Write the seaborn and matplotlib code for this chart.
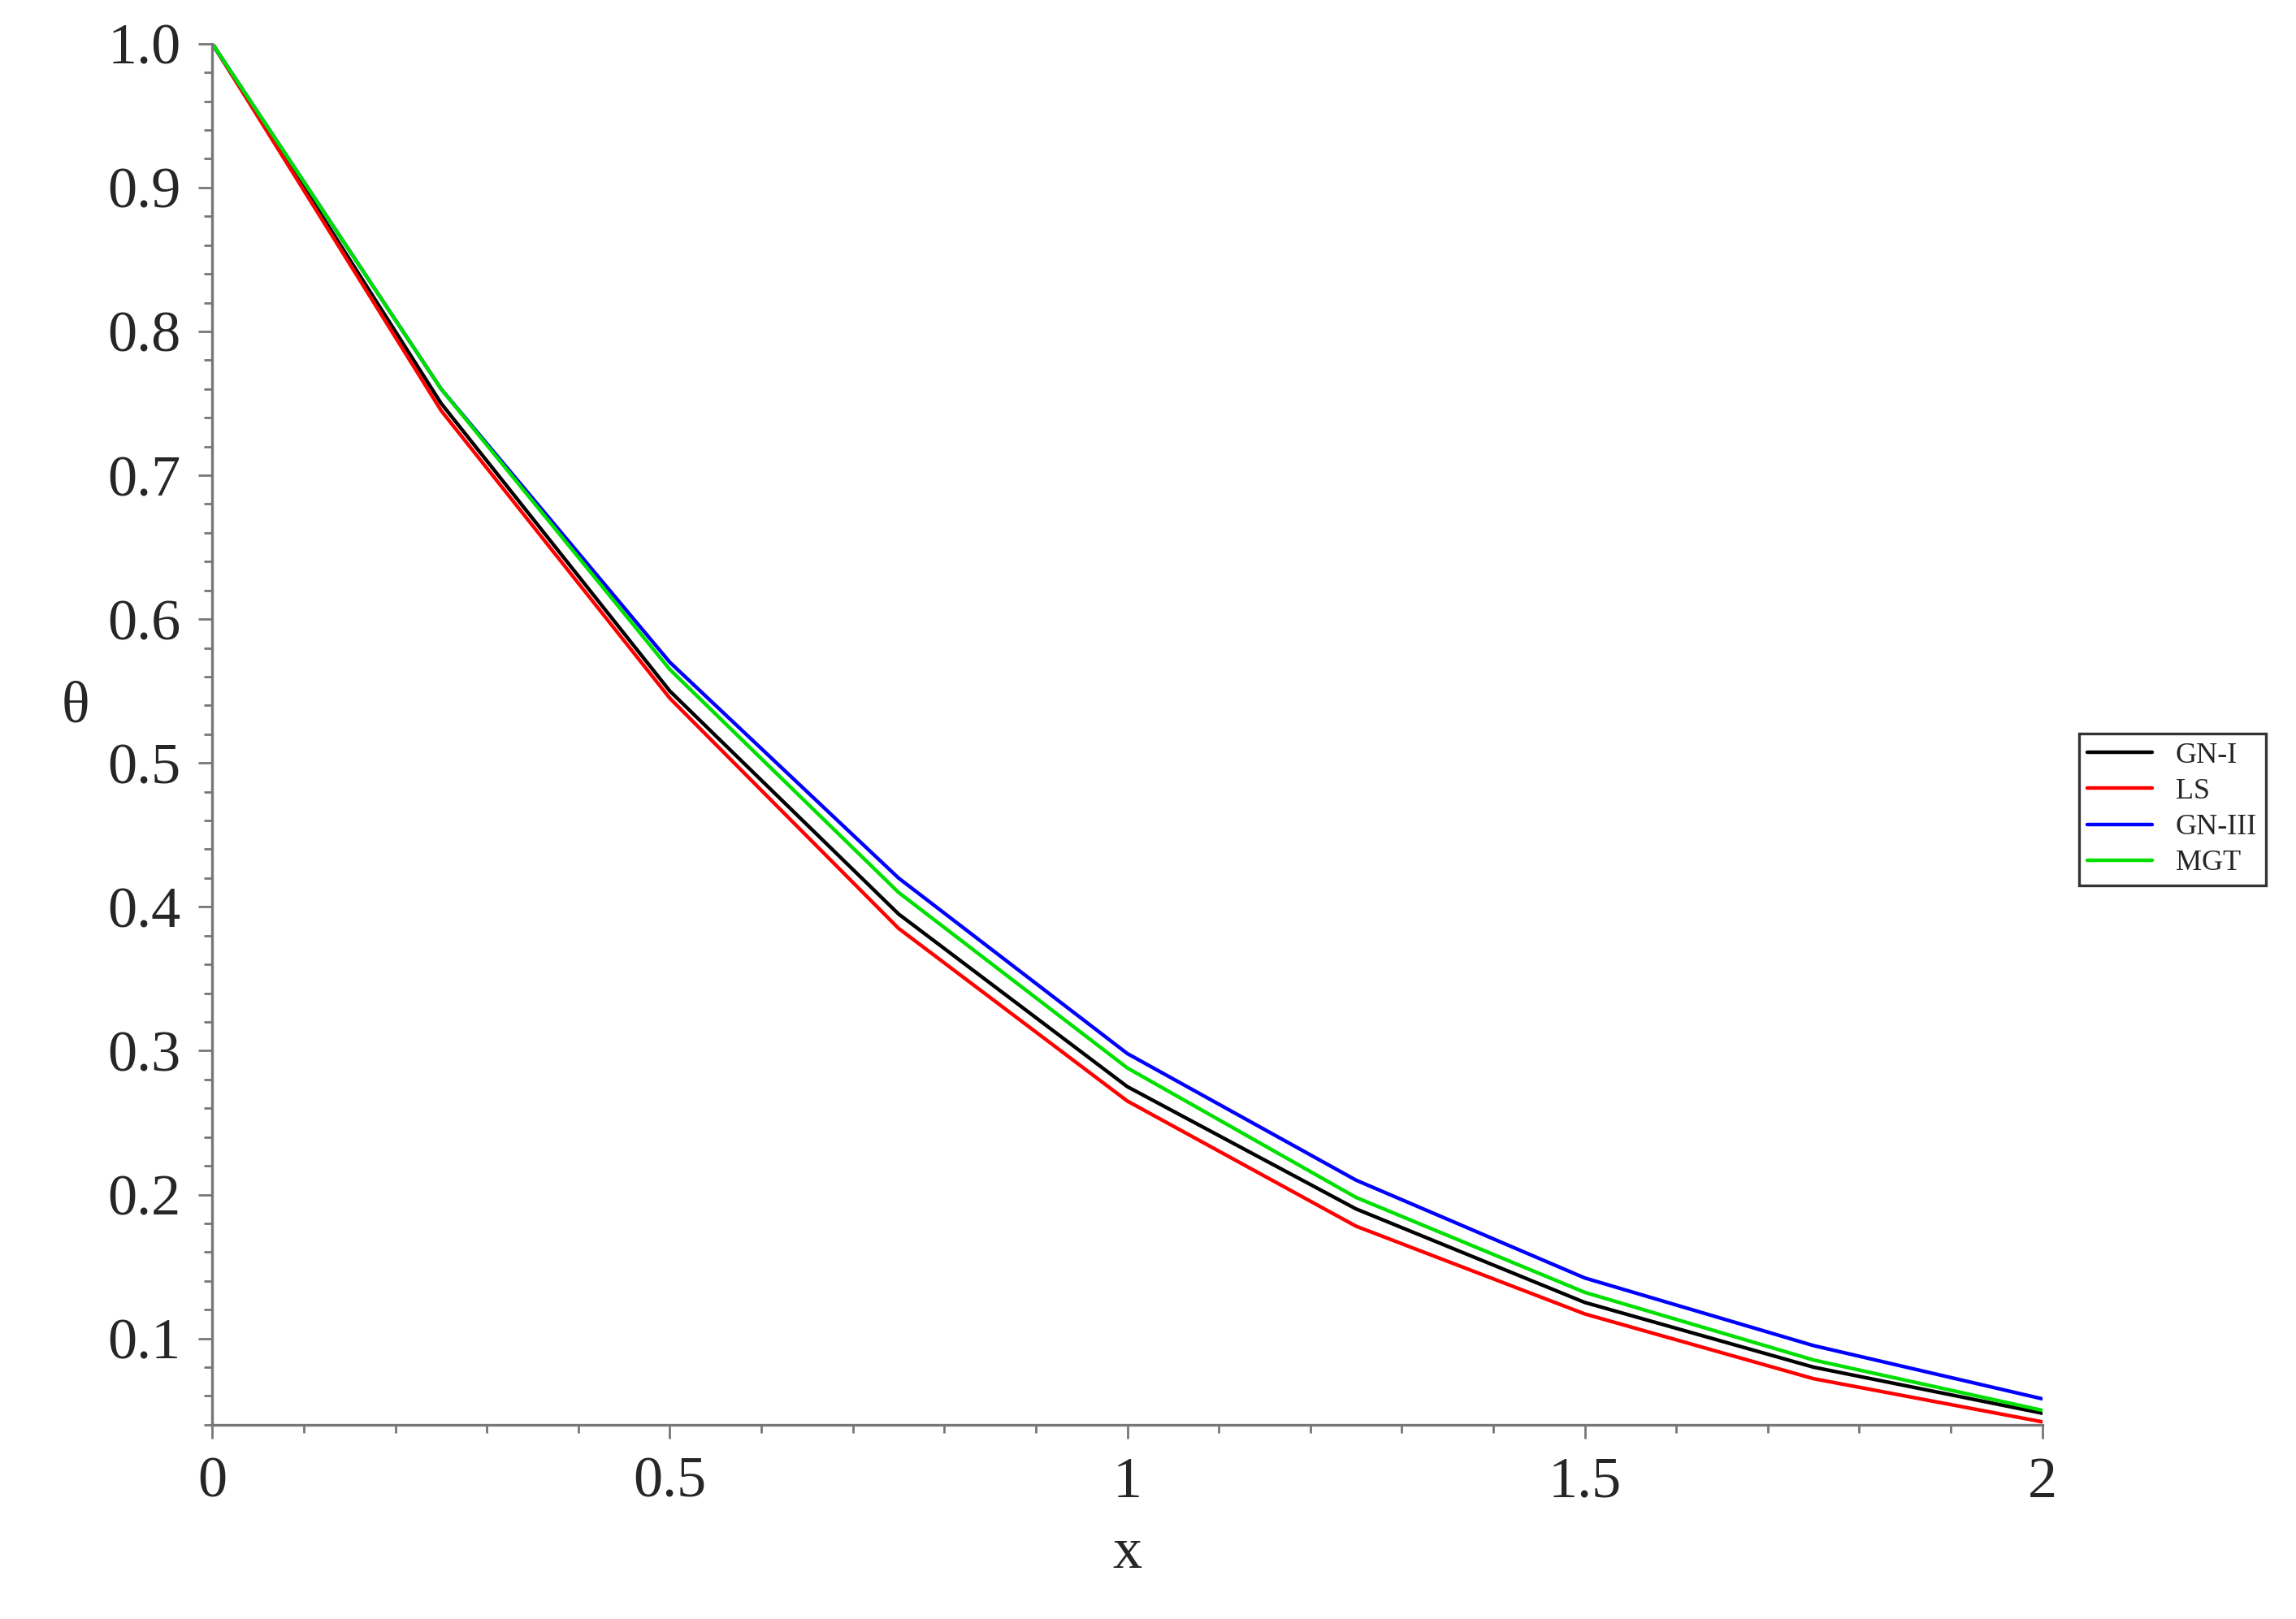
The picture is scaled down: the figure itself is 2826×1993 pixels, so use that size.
import matplotlib
matplotlib.use('Agg')
import matplotlib.pyplot as plt
import seaborn as sns
import pandas as pd
from matplotlib.ticker import MultipleLocator

x_vals = [0, 0.25, 0.5, 0.75, 1.0, 1.25, 1.5, 1.75, 2.0]
gn1 = [1.0, 0.750, 0.550, 0.395, 0.275, 0.190, 0.125, 0.080, 0.048]
ls = [1.0, 0.745, 0.545, 0.385, 0.265, 0.178, 0.117, 0.072, 0.042]
gn3 = [1.0, 0.760, 0.570, 0.420, 0.298, 0.210, 0.142, 0.095, 0.058]
mgt = [1.0, 0.760, 0.565, 0.410, 0.288, 0.198, 0.132, 0.085, 0.050]
names = ["GN-I", "LS", "GN-III", "MGT"]
colors = ["black", "#ff0000", "#0000ff", "#00e000"]

rows = []
for name, ys in zip(names, [gn1, ls, gn3, mgt]):
    for xv, yv in zip(x_vals, ys):
        rows.append({"x": xv, "theta": yv, "model": name})
df = pd.DataFrame(rows)

sns.set_style("white")
plt.rcParams['font.family'] = ['Liberation Serif', 'DejaVu Serif']

fig = plt.figure(figsize=(14.13, 9.965), dpi=200)
ax = fig.add_axes([0.0925, 0.12, 0.797, 0.853])
sns.lineplot(data=df, x="x", y="theta", hue="model", palette=dict(zip(names, colors)),
             ax=ax, linewidth=1.6)

ax.set_xlim(0, 2)
ax.set_ylim(0.04, 1.0)
ax.xaxis.set_major_locator(MultipleLocator(0.5))
ax.xaxis.set_minor_locator(MultipleLocator(0.1))
ax.yaxis.set_major_locator(MultipleLocator(0.1))
ax.yaxis.set_minor_locator(MultipleLocator(0.02))
ax.set_xticklabels([])
ax.set_xticks([0, 0.5, 1, 1.5, 2])
ax.set_xticklabels(["0", "0.5", "1", "1.5", "2"])
ax.set_yticks([0.1 * i for i in range(1, 11)])
ax.set_yticklabels(["0.1", "0.2", "0.3", "0.4", "0.5", "0.6", "0.7", "0.8", "0.9", "1.0"])
ax.tick_params(which='major', direction='out', length=6, width=1, color='#777777',
               labelsize=26, pad=8)
ax.tick_params(which='minor', direction='out', length=3.5, width=1, color='#777777')
ax.tick_params(axis='x', which='both', bottom=True)
ax.tick_params(axis='y', which='both', left=True)
for s in ['top', 'right']:
    ax.spines[s].set_visible(False)
for s in ['left', 'bottom']:
    ax.spines[s].set_color('#777777')
    ax.spines[s].set_linewidth(1.2)

ax.set_xlabel("x", fontsize=26, labelpad=8)
ax.set_ylabel("θ", fontsize=26, rotation=0, labelpad=10)
ax.yaxis.set_label_coords(-0.075, 0.5)

leg = ax.legend(loc='center left', bbox_to_anchor=(0.899, 0.5), bbox_transform=fig.transFigure,
                fontsize=13, frameon=True, fancybox=False, handlelength=2.2,
                labelspacing=0.3, borderpad=0.3)
leg.get_frame().set_edgecolor('black')
leg.get_frame().set_linewidth(1.2)

fig.savefig("out.png", dpi=200)
